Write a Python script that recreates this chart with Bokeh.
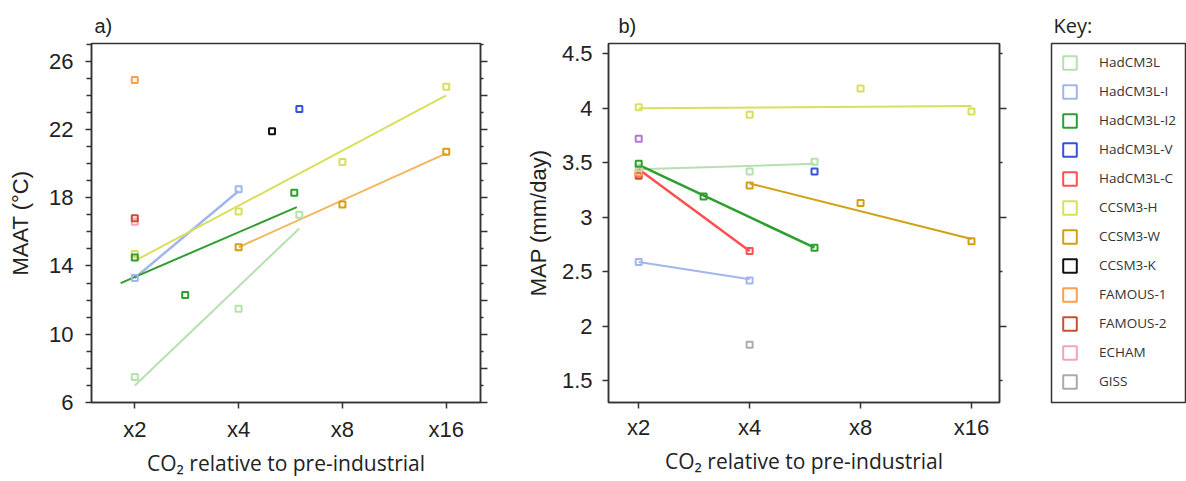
from bokeh.plotting import figure
from bokeh.models import FixedTicker, LinearAxis, Range1d, Legend, LegendItem
from bokeh.layouts import row
from bokeh.embed import file_html
from bokeh.resources import INLINE

# ---------------- data ----------------
models = ["HadCM3L", "HadCM3L-I", "HadCM3L-I2", "HadCM3L-V", "HadCM3L-C", "CCSM3-H",
          "CCSM3-W", "CCSM3-K", "FAMOUS-1", "FAMOUS-2", "ECHAM", "GISS"]
model_colors = ["#b6e0b0", "#a2b6ee", "#2e9e2e", "#3352e0", "#ff4f4f", "#d9df5c",
                "#d4a012", "#111111", "#ff9f4c", "#c8502e", "#f4a2be", "#ababab"]

co2_ticks = [2, 4, 8, 16]
co2_tick_labels = ["x2", "x4", "x8", "x16"]

# Panel a: MAAT (deg C)
a_hadcm3l_x = [2, 4, 6];            a_hadcm3l_y = [7.5, 11.5, 17.0]
a_hadcm3l_i_x = [2, 4];             a_hadcm3l_i_y = [13.3, 18.5]
a_hadcm3l_i2_x = [2, 2.8, 5.8];     a_hadcm3l_i2_y = [14.5, 12.3, 18.3]
a_hadcm3l_v_x = [6];                a_hadcm3l_v_y = [23.2]
a_ccsm3_h_x = [2, 4, 8, 16];        a_ccsm3_h_y = [14.7, 17.2, 20.1, 24.5]
a_ccsm3_w_x = [4, 8, 16];           a_ccsm3_w_y = [15.1, 17.6, 20.7]
a_ccsm3_k_x = [5];                  a_ccsm3_k_y = [21.9]
a_famous1_x = [2];                  a_famous1_y = [24.9]
a_famous2_x = [2];                  a_famous2_y = [16.8]
a_echam_x = [2];                    a_echam_y = [16.6]

# Panel a fitted lines
a_fit_hadcm3l_x = [2, 6];           a_fit_hadcm3l_y = [7.0, 16.2]
a_fit_hadcm3l_i_x = [2, 4];         a_fit_hadcm3l_i_y = [13.3, 18.4]
a_fit_hadcm3l_i2_x = [1.82, 5.9];   a_fit_hadcm3l_i2_y = [13.0, 17.45]
a_fit_ccsm3_h_x = [2, 16];          a_fit_ccsm3_h_y = [14.3, 24.0]
a_fit_ccsm3_w_x = [4, 16];          a_fit_ccsm3_w_y = [15.1, 20.6]

# Panel b: MAP (mm/day)
b_hadcm3l_x = [2, 4, 6];            b_hadcm3l_y = [3.45, 3.42, 3.51]
b_hadcm3l_i_x = [2, 4];             b_hadcm3l_i_y = [2.59, 2.42]
b_hadcm3l_i2_x = [2, 3, 6];         b_hadcm3l_i2_y = [3.49, 3.19, 2.72]
b_hadcm3l_v_x = [6];                b_hadcm3l_v_y = [3.42]
b_hadcm3l_c_x = [2, 4];             b_hadcm3l_c_y = [3.40, 2.69]
b_ccsm3_h_x = [2, 4, 8, 16];        b_ccsm3_h_y = [4.01, 3.94, 4.18, 3.97]
b_ccsm3_w_x = [4, 8, 16];           b_ccsm3_w_y = [3.29, 3.13, 2.78]
b_famous1_x = [2];                  b_famous1_y = [3.41]
b_famous2_x = [2];                  b_famous2_y = [3.38]
b_giss_x = [4];                     b_giss_y = [1.83]
b_other_x = [2];                    b_other_y = [3.72]

# Panel b fitted lines
b_fit_hadcm3l_x = [2, 6];           b_fit_hadcm3l_y = [3.44, 3.49]
b_fit_hadcm3l_i_x = [2, 4];         b_fit_hadcm3l_i_y = [2.59, 2.43]
b_fit_hadcm3l_i2_x = [2, 6];        b_fit_hadcm3l_i2_y = [3.48, 2.72]
b_fit_hadcm3l_c_x = [2, 4];         b_fit_hadcm3l_c_y = [3.44, 2.69]
b_fit_ccsm3_h_x = [2, 16];          b_fit_ccsm3_h_y = [4.00, 4.02]
b_fit_ccsm3_w_x = [4, 16];          b_fit_ccsm3_w_y = [3.31, 2.80]

C = dict(zip(models, model_colors))
OTHER_COLOR = "#b575d9"
W_FIT_A_COLOR = "#f4b55c"

TICK_FONT = "Liberation Sans"
TXT = "#222222"
AX = "#333333"
XTITLE = "CO\u2082 relative to pre-industrial"
NAN = float("nan")


def style_common(p):
    p.background_fill_color = "white"
    p.border_fill_color = "white"
    p.outline_line_color = AX
    p.outline_line_width = 1.5
    p.xgrid.visible = False
    p.ygrid.visible = False
    p.title.text_font = TICK_FONT
    p.title.text_font_size = "20px"
    p.title.text_font_style = "normal"
    p.title.text_color = TXT
    p.title.align = "left"
    p.title.standoff = 13
    xa = p.xaxis[0]
    xa.ticker = FixedTicker(ticks=co2_ticks)
    xa.major_label_overrides = dict(zip(co2_ticks, co2_tick_labels))
    xa.major_tick_out = 6
    xa.major_tick_in = 0
    xa.minor_tick_out = 0
    xa.minor_tick_in = 0
    xa.axis_line_color = AX
    xa.axis_line_width = 1.5
    xa.major_tick_line_color = AX
    xa.major_tick_line_width = 1.5
    xa.major_label_text_font = TICK_FONT
    xa.major_label_text_font_size = "22px"
    xa.major_label_text_color = TXT
    xa.axis_label = XTITLE
    xa.axis_label_text_font = "Open Sans"
    xa.axis_label_text_font_size = "21px"
    xa.axis_label_text_font_style = "normal"
    xa.axis_label_text_color = TXT
    xa.axis_label_standoff = 4
    ya = p.yaxis[0]
    ya.major_tick_in = 0
    ya.minor_tick_in = 0
    ya.axis_line_color = AX
    ya.axis_line_width = 1.5
    ya.major_tick_line_color = AX
    ya.major_tick_line_width = 1.5
    ya.minor_tick_line_color = AX
    ya.minor_tick_line_width = 1.5
    ya.major_label_text_font = TICK_FONT
    ya.major_label_text_font_size = "22px"
    ya.major_label_text_color = TXT
    ya.axis_label_text_font = TICK_FONT
    ya.axis_label_text_font_size = "22px"
    ya.axis_label_text_font_style = "normal"
    ya.axis_label_text_color = TXT


def right_ticks(p, major, minor, major_len, minor_len):
    ax = LinearAxis(ticker=FixedTicker(ticks=major, minor_ticks=minor))
    ax.major_label_overrides = {t: "" for t in major}
    ax.major_tick_out = major_len
    ax.major_tick_in = 0
    ax.minor_tick_out = minor_len
    ax.minor_tick_in = 0
    ax.axis_line_color = AX
    ax.axis_line_width = 1.5
    ax.major_tick_line_color = AX
    ax.major_tick_line_width = 1.5
    ax.minor_tick_line_color = AX
    ax.minor_tick_line_width = 1.5
    ax.major_label_standoff = 0
    p.add_layout(ax, "right")


def pts(p, x, y, color):
    p.scatter(x, y, marker="square", size=6, line_width=2, line_color=color, fill_color=None)


def fit(p, x, y, color, w=2):
    p.line(x, y, line_color=color, line_width=w)


# ---------------- panel a ----------------
pa = figure(width=500, height=481, x_axis_type="log",
            x_range=Range1d(1.498, 20.11), y_range=Range1d(6, 27.04),
            min_border_left=91, min_border_right=20, min_border_top=43, min_border_bottom=79,
            output_backend="svg", toolbar_location=None, title="a)")
style_common(pa)
pa.title.offset = 3
pa.xaxis.major_label_standoff = 8
pa.yaxis.ticker = FixedTicker(ticks=[6, 10, 14, 18, 22, 26],
                              minor_ticks=[7, 8, 9, 11, 12, 13, 15, 16, 17, 19, 20, 21, 23, 24, 25, 27])
pa.yaxis.major_tick_out = 6
pa.yaxis.minor_tick_out = 5
pa.yaxis.major_label_standoff = 12
pa.yaxis.axis_label = "MAAT (\u00b0C)"
pa.yaxis.axis_label_standoff = 13
right_ticks(pa, [6, 8, 10, 12, 14, 16, 18, 20, 22, 24, 26],
            [7, 9, 11, 13, 15, 17, 19, 21, 23, 25, 27], 7, 3)

fit(pa, a_fit_hadcm3l_x, a_fit_hadcm3l_y, C["HadCM3L"])
fit(pa, a_fit_hadcm3l_i_x, a_fit_hadcm3l_i_y, C["HadCM3L-I"], 2.5)
fit(pa, a_fit_hadcm3l_i2_x, a_fit_hadcm3l_i2_y, C["HadCM3L-I2"])
fit(pa, a_fit_ccsm3_h_x, a_fit_ccsm3_h_y, C["CCSM3-H"])
fit(pa, a_fit_ccsm3_w_x, a_fit_ccsm3_w_y, W_FIT_A_COLOR)

pts(pa, a_echam_x, a_echam_y, C["ECHAM"])
pts(pa, a_famous2_x, a_famous2_y, C["FAMOUS-2"])
pts(pa, a_famous1_x, a_famous1_y, C["FAMOUS-1"])
pts(pa, a_hadcm3l_x, a_hadcm3l_y, C["HadCM3L"])
pts(pa, a_ccsm3_h_x, a_ccsm3_h_y, C["CCSM3-H"])
pts(pa, a_hadcm3l_i_x, a_hadcm3l_i_y, C["HadCM3L-I"])
pts(pa, a_hadcm3l_i2_x, a_hadcm3l_i2_y, C["HadCM3L-I2"])
pts(pa, a_ccsm3_w_x, a_ccsm3_w_y, C["CCSM3-W"])
pts(pa, a_hadcm3l_v_x, a_hadcm3l_v_y, C["HadCM3L-V"])
pts(pa, a_ccsm3_k_x, a_ccsm3_k_y, C["CCSM3-K"])

# ---------------- panel b ----------------
pb = figure(width=530, height=481, x_axis_type="log",
            x_range=Range1d(1.656, 19.06), y_range=Range1d(1.3, 4.594),
            min_border_left=108, min_border_right=31, min_border_top=43, min_border_bottom=77,
            output_backend="svg", toolbar_location=None, title="b)")
style_common(pb)
pb.title.offset = 10
pb.xaxis.major_label_standoff = 6
pb.yaxis.ticker = FixedTicker(ticks=[1.5, 2, 2.5, 3, 3.5, 4, 4.5])
pb.yaxis.major_label_overrides = {1.5: "1.5", 2: "2", 2.5: "2.5", 3: "3", 3.5: "3.5", 4: "4", 4.5: "4.5"}
pb.yaxis.major_tick_out = 6
pb.yaxis.minor_tick_out = 0
pb.yaxis.major_label_standoff = 10
pb.yaxis.axis_label = "MAP (mm/day)"
pb.yaxis.axis_label_standoff = 8
right_ticks(pb, [2, 3, 4], [1.5, 2.5, 3.5, 4.5], 7, 3)

fit(pb, b_fit_hadcm3l_x, b_fit_hadcm3l_y, C["HadCM3L"])
fit(pb, b_fit_hadcm3l_i_x, b_fit_hadcm3l_i_y, C["HadCM3L-I"])
fit(pb, b_fit_hadcm3l_i2_x, b_fit_hadcm3l_i2_y, C["HadCM3L-I2"], 2.5)
fit(pb, b_fit_hadcm3l_c_x, b_fit_hadcm3l_c_y, C["HadCM3L-C"], 2.5)
fit(pb, b_fit_ccsm3_h_x, b_fit_ccsm3_h_y, C["CCSM3-H"])
fit(pb, b_fit_ccsm3_w_x, b_fit_ccsm3_w_y, C["CCSM3-W"])

pts(pb, b_other_x, b_other_y, OTHER_COLOR)
pts(pb, b_famous2_x, b_famous2_y, C["FAMOUS-2"])
pts(pb, b_hadcm3l_c_x, b_hadcm3l_c_y, C["HadCM3L-C"])
pts(pb, b_famous1_x, b_famous1_y, C["FAMOUS-1"])
pts(pb, b_hadcm3l_x, b_hadcm3l_y, C["HadCM3L"])
pts(pb, b_hadcm3l_i_x, b_hadcm3l_i_y, C["HadCM3L-I"])
pts(pb, b_hadcm3l_i2_x, b_hadcm3l_i2_y, C["HadCM3L-I2"])
pts(pb, b_ccsm3_h_x, b_ccsm3_h_y, C["CCSM3-H"])
pts(pb, b_ccsm3_w_x, b_ccsm3_w_y, C["CCSM3-W"])
pts(pb, b_hadcm3l_v_x, b_hadcm3l_v_y, C["HadCM3L-V"])
pts(pb, b_giss_x, b_giss_y, C["GISS"])

# ---------------- key ----------------
# The key box is the frame outline of this small figure (its right side runs
# off the page edge, as in the original).
pk = figure(width=156, height=481, x_range=Range1d(0, 1), y_range=Range1d(0, 1),
            x_axis_location=None, y_axis_location=None,
            min_border_left=21, min_border_right=0, min_border_top=43, min_border_bottom=78,
            output_backend="svg", toolbar_location=None, title="Key:")
pk.outline_line_color = AX
pk.outline_line_width = 1.5
pk.grid.visible = False
pk.title.text_font = "Open Sans"
pk.title.text_font_size = "20px"
pk.title.text_font_style = "normal"
pk.title.text_color = TXT
pk.title.align = "left"
pk.title.offset = 2
pk.title.standoff = 9

items = []
for name, col in zip(models, model_colors):
    # key-only swatch renderer (NaN geometry: nothing drawn in the frame)
    r = pk.quad(left=[NAN], right=[NAN], top=[NAN], bottom=[NAN], fill_color=None,
                line_color=col, line_width=2)
    items.append(LegendItem(label=name, renderers=[r]))

leg = Legend(items=items, location="top_left", margin=10, padding=0, spacing=11,
             glyph_width=17, glyph_height=17, label_height=18,
             label_standoff=21,
             label_text_font="Open Sans", label_text_font_size="13.5px",
             label_text_color="#333333", border_line_color=None,
             background_fill_color="white", background_fill_alpha=1.0)
pk.add_layout(leg)

layout = row(pa, pb, pk)
open("out.html", "w").write(file_html(layout, INLINE))
